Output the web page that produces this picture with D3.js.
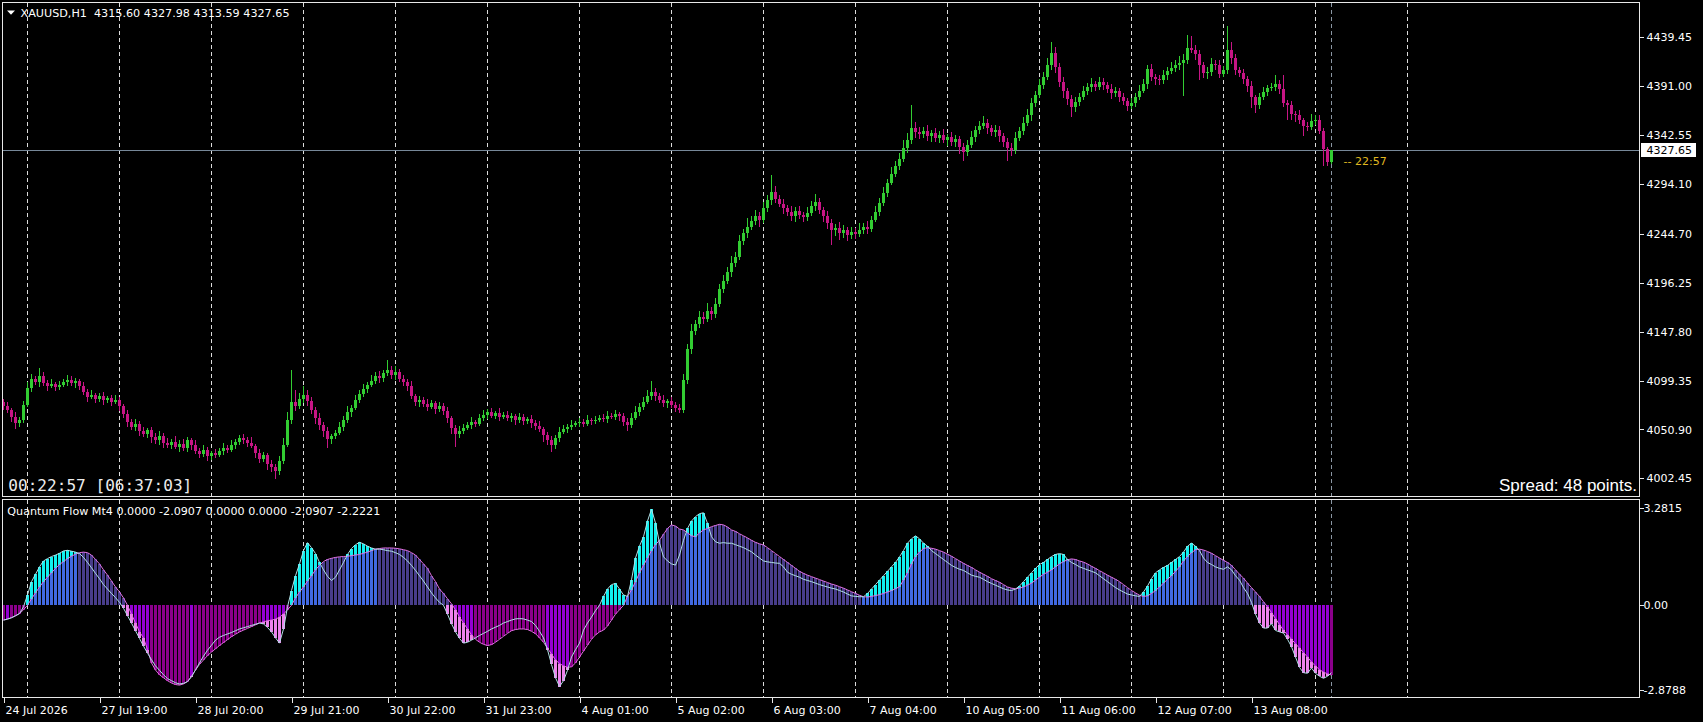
<!DOCTYPE html>
<html>
<head>
<meta charset="utf-8">
<title>XAUUSD,H1</title>
<script src="https://cdn.jsdelivr.net/npm/d3@7.9.0/dist/d3.min.js"></script>
<style>
  html, body { margin: 0; padding: 0; background: #000; overflow: hidden; }
  svg { display: block; }
  text { font-family: "DejaVu Sans", sans-serif; font-size: 11px; fill: #fff; }
</style>
</head>
<body>
<svg id="chart" width="1703" height="722"></svg>
<script>
// ---- data (one value per H1 bar, 333 bars) ----
const firstOpen = 4078;
const closes = [
  4074, 4070, 4063, 4057, 4060, 4075, 4092, 4101, 4098, 4104,
  4097, 4094, 4096, 4093, 4095, 4098, 4100, 4097, 4099, 4094,
  4088, 4083, 4085, 4081, 4084, 4080, 4082, 4078, 4080, 4074,
  4066, 4058, 4053, 4056, 4049, 4046, 4050, 4043, 4040, 4044,
  4038, 4036, 4039, 4034, 4037, 4033, 4040, 4036, 4030, 4027,
  4031, 4025, 4028, 4026, 4030, 4033, 4031, 4036, 4039, 4042,
  4040, 4038, 4035, 4028, 4022, 4026, 4017, 4014, 4010, 4020,
  4036, 4060, 4078, 4074, 4081, 4085, 4079, 4070, 4062, 4055,
  4049, 4041, 4044, 4047, 4053, 4060, 4068, 4072, 4080, 4086,
  4091, 4095, 4099, 4104, 4102, 4107, 4110, 4105, 4108, 4101,
  4098, 4094, 4084, 4078, 4080, 4076, 4073, 4077, 4071, 4074,
  4069, 4062, 4052, 4046, 4049, 4052, 4055, 4058, 4056, 4062,
  4065, 4068, 4064, 4067, 4063, 4065, 4062, 4064, 4060, 4063,
  4059, 4061, 4057, 4054, 4051, 4045, 4040, 4036, 4042, 4048,
  4051, 4053, 4055, 4057, 4058, 4056, 4060, 4059, 4060, 4062,
  4061, 4064, 4063, 4066, 4064, 4058, 4055, 4062, 4068, 4073,
  4078, 4084, 4088, 4084, 4080, 4077, 4079, 4075, 4072, 4070,
  4100, 4131, 4148, 4155, 4162, 4160, 4168, 4165, 4175, 4190,
  4198, 4207, 4216, 4222, 4238, 4246, 4252, 4257, 4262, 4258,
  4270, 4278, 4286, 4279, 4274, 4270, 4266, 4262, 4267, 4263,
  4261, 4265, 4272, 4276, 4268, 4262, 4255, 4249, 4251, 4246,
  4249, 4244, 4247, 4245, 4249, 4252, 4250, 4258, 4266, 4275,
  4285, 4295, 4304, 4312, 4319, 4330, 4338, 4350, 4346, 4344,
  4347, 4342, 4345, 4340, 4343, 4338, 4341, 4336, 4339, 4331,
  4326, 4333, 4341, 4348, 4352, 4355, 4350, 4346, 4348, 4342,
  4336, 4330, 4328, 4340, 4347, 4355, 4362, 4374, 4382, 4392,
  4400, 4412, 4424, 4410, 4395, 4386, 4378, 4370, 4375, 4380,
  4386, 4390, 4393, 4390, 4395, 4392, 4388, 4384, 4386, 4380,
  4376, 4371, 4374, 4380, 4386, 4393, 4408, 4400, 4398, 4397,
  4402, 4406, 4409, 4412, 4414, 4417, 4428.5, 4427, 4423, 4412,
  4404, 4405, 4413, 4412, 4403, 4407, 4427, 4419, 4407, 4404,
  4398, 4391, 4380, 4372, 4380, 4385, 4389, 4390, 4393, 4388,
  4374, 4372, 4363, 4362, 4357.5, 4352, 4351, 4357, 4357.5, 4347,
  4328.5, 4315.6, 4327.65
];
const wickUp = [
  3, 4, 2, 5, 3, 4, 6, 5, 3, 8,   4, 3, 5, 2, 4, 3, 5, 4, 3, 2,
  4, 3, 5, 2, 3, 4, 2, 3, 5, 3,   2, 4, 3, 5, 3, 4, 2, 3, 4, 5,
  3, 4, 2, 5, 3, 4, 3, 2, 4, 3,   5, 3, 2, 4, 3, 5, 3, 4, 2, 3,
  4, 3, 5, 2, 4, 3, 2, 4, 3, 5,   6, 8, 32, 12, 6, 9, 5, 4, 3, 5,
  3, 4, 2, 3, 5, 4, 6, 3, 5, 4,   5, 3, 6, 4, 5, 3, 10, 4, 6, 3,
  4, 3, 5, 2, 4, 3, 5, 3, 2, 4,   3, 4, 2, 3, 5, 4, 3, 5, 2, 4,
  5, 3, 4, 2, 5, 3, 4, 3, 2, 4,   3, 2, 4, 3, 5, 2, 3, 4, 3, 5,
  4, 3, 5, 2, 4, 3, 5, 2, 4, 3,   4, 5, 3, 4, 2, 3, 4, 5, 6, 4,
  5, 6, 11, 4, 3, 5, 2, 4, 3, 4,  6, 5, 7, 4, 6, 5, 8, 4, 6, 5,
  6, 5, 7, 5, 6, 4, 8, 5, 6, 4,   6, 5, 17, 6, 4, 5, 3, 6, 4, 5,
  3, 6, 5, 8, 4, 3, 5, 4, 3, 5,   4, 3, 5, 4, 6, 3, 5, 4, 6, 5,
  6, 4, 7, 5, 6, 8, 7, 22, 6, 5,  4, 6, 3, 5, 4, 6, 3, 5, 4, 3,
  4, 5, 6, 4, 5, 6, 4, 3, 5, 4,   3, 4, 5, 6, 4, 5, 6, 5, 4, 6,
  5, 7, 11, 6, 4, 5, 3, 4, 5, 4,  5, 4, 6, 3, 5, 4, 3, 5, 4, 3,
  4, 3, 5, 4, 6, 5, 4, 5, 3, 4,   5, 4, 6, 5, 7, 6, 13, 12, 5, 4,
  3, 5, 6, 4, 5, 4, 24, 8, 4, 3,  4, 3, 5, 2, 4, 5, 3, 4, 9, 4,
  14, 3, 4, 3, 5, 2, 4, 6, 5, 5,  3, 2, 0.33
];
const wickDn = [
  4, 3, 5, 6, 4, 3, 2, 4, 3, 5,   3, 5, 2, 4, 3, 2, 4, 3, 5, 4,
  3, 5, 2, 4, 3, 5, 3, 4, 2, 5,   4, 5, 3, 4, 5, 3, 4, 5, 3, 4,
  5, 3, 4, 2, 5, 3, 4, 5, 3, 4,   3, 5, 4, 3, 2, 4, 3, 2, 4, 3,
  3, 4, 2, 5, 4, 3, 6, 5, 8, 4,   3, 2, 4, 5, 3, 4, 5, 4, 6, 5,
  6, 8, 4, 3, 2, 4, 3, 5, 2, 3,   3, 4, 2, 3, 5, 4, 3, 4, 5, 3,
  4, 5, 3, 4, 5, 3, 4, 2, 5, 3,   4, 5, 6, 12, 4, 3, 2, 4, 3, 2,
  3, 4, 2, 3, 4, 2, 3, 4, 5, 3,   4, 3, 5, 4, 3, 6, 4, 7, 4, 3,
  2, 4, 3, 2, 4, 3, 2, 4, 3, 2,   3, 4, 2, 3, 5, 4, 6, 3, 2, 4,
  3, 2, 4, 5, 3, 4, 5, 3, 4, 3,   3, 4, 5, 3, 4, 5, 3, 6, 4, 3,
  4, 3, 5, 4, 3, 4, 5, 3, 4, 6,   3, 4, 5, 4, 3, 6, 4, 5, 6, 4,
  5, 4, 3, 5, 4, 6, 5, 15, 6, 7,  5, 6, 4, 5, 3, 4, 5, 3, 2, 4,
  3, 4, 2, 3, 4, 3, 5, 4, 6, 5,   4, 5, 6, 4, 5, 3, 6, 4, 5, 7,
  9, 4, 3, 5, 4, 3, 6, 4, 5, 6,   5, 13, 6, 4, 3, 4, 3, 5, 4, 3,
  4, 3, 5, 6, 5, 7, 6, 10, 5, 4,  3, 4, 5, 4, 3, 5, 4, 6, 4, 5,
  4, 5, 3, 4, 3, 2, 5, 4, 6, 5,   4, 5, 3, 4, 5, 33, 4, 3, 6, 15,
  5, 6, 4, 5, 4, 3, 4, 6, 5, 4,   5, 6, 11, 8, 4, 3, 4, 3, 4, 5,
  4, 14, 5, 6, 4, 10, 4, 3, 4, 3, 17, 4, 2.01
];
const fastLine = [
  -0.50, -0.47, -0.42, -0.35, -0.28, -0.05, 0.35, 0.80, 1.05, 1.30,
  1.50, 1.58, 1.65, 1.70, 1.76, 1.84, 1.86, 1.83, 1.80, 1.75,
  1.62, 1.45, 1.27, 1.08, 0.90, 0.70, 0.55, 0.40, 0.26, 0.10,
  -0.10, -0.35, -0.60, -0.86, -1.12, -1.38, -1.62, -1.84, -2.05, -2.20,
  -2.35, -2.48, -2.55, -2.62, -2.66, -2.64, -2.58, -2.42, -2.18, -1.95,
  -1.72, -1.52, -1.35, -1.18, -1.08, -1.02, -0.97, -0.92, -0.86, -0.80,
  -0.76, -0.72, -0.68, -0.64, -0.60, -0.63, -0.75, -0.90, -1.10, -1.28,
  -0.80, -0.05, 0.50, 1.00, 1.40, 1.85, 2.12, 1.95, 1.75, 1.45,
  1.20, 0.98, 0.84, 0.95, 1.20, 1.45, 1.72, 1.92, 2.05, 2.13,
  2.08, 2.00, 1.94, 1.90, 1.90, 1.88, 1.85, 1.83, 1.78, 1.72,
  1.62, 1.50, 1.35, 1.18, 1.00, 0.82, 0.62, 0.42, 0.25, 0.10,
  0.00, -0.30, -0.62, -0.90, -1.12, -1.28, -1.25, -1.18, -1.10, -1.02,
  -0.95, -0.88, -0.80, -0.74, -0.68, -0.60, -0.55, -0.50, -0.46, -0.45,
  -0.46, -0.50, -0.55, -0.68, -0.88, -1.10, -1.50, -2.00, -2.45, -2.75,
  -2.55, -2.20, -1.75, -1.50, -1.28, -0.84, -0.60, -0.40, -0.18, 0.00,
  0.30, 0.55, 0.70, 0.74, 0.55, 0.35, 0.30, 0.86, 1.60, 2.00,
  2.32, 2.85, 3.25, 2.78, 2.10, 1.64, 1.50, 1.40, 1.36, 1.70,
  2.20, 2.60, 2.85, 3.00, 3.10, 3.13, 2.77, 2.32, 2.15, 2.10,
  2.12, 2.10, 2.10, 2.05, 2.00, 1.95, 1.88, 1.81, 1.70, 1.60,
  1.50, 1.47, 1.45, 1.43, 1.42, 1.30, 1.12, 1.05, 1.00, 0.95,
  0.88, 0.84, 0.80, 0.75, 0.70, 0.66, 0.62, 0.58, 0.55, 0.50,
  0.45, 0.38, 0.32, 0.30, 0.29, 0.29, 0.40, 0.55, 0.70, 0.85,
  1.00, 1.15, 1.30, 1.45, 1.64, 1.85, 2.10, 2.25, 2.35, 2.25,
  2.10, 2.00, 1.85, 1.75, 1.65, 1.55, 1.45, 1.35, 1.28, 1.22,
  1.18, 1.10, 1.02, 0.98, 0.95, 0.88, 0.80, 0.74, 0.68, 0.62,
  0.56, 0.52, 0.50, 0.55, 0.65, 0.80, 0.95, 1.10, 1.25, 1.38,
  1.45, 1.55, 1.65, 1.72, 1.75, 1.72, 1.55, 1.45, 1.38, 1.30,
  1.25, 1.20, 1.15, 1.10, 1.00, 0.90, 0.80, 0.70, 0.60, 0.52,
  0.45, 0.38, 0.35, 0.32, 0.30, 0.45, 0.65, 0.90, 1.10, 1.20,
  1.28, 1.35, 1.45, 1.55, 1.65, 1.80, 2.00, 2.10, 2.00, 1.85,
  1.60, 1.45, 1.38, 1.30, 1.25, 1.22, 1.30, 1.20, 1.00, 0.85,
  0.60, 0.40, 0.10, -0.30, -0.60, -0.77, -0.77, -0.62, -0.85, -0.90,
  -0.94, -1.15, -1.40, -1.75, -2.10, -2.28, -2.30, -2.12, -2.30, -2.40,
  -2.47, -2.40, -2.28
];
const slowLine = [
  -0.50, -0.46, -0.42, -0.36, -0.28, -0.15, 0.00, 0.22, 0.42, 0.62,
  0.80, 0.95, 1.10, 1.25, 1.38, 1.48, 1.58, 1.66, 1.73, 1.78,
  1.80, 1.78, 1.70, 1.55, 1.40, 1.20, 1.02, 0.82, 0.62, 0.45,
  0.25, 0.00, -0.30, -0.60, -0.90, -1.10, -1.50, -1.95, -2.19, -2.35,
  -2.45, -2.55, -2.63, -2.68, -2.70, -2.66, -2.58, -2.40, -2.19, -2.00,
  -1.85, -1.70, -1.58, -1.47, -1.36, -1.26, -1.16, -1.06, -0.98, -0.90,
  -0.84, -0.78, -0.72, -0.66, -0.60, -0.56, -0.52, -0.50, -0.47, -0.40,
  -0.30, -0.15, 0.00, 0.25, 0.45, 0.62, 0.82, 1.00, 1.20, 1.35,
  1.48, 1.55, 1.59, 1.62, 1.64, 1.65, 1.66, 1.68, 1.70, 1.72,
  1.76, 1.80, 1.85, 1.90, 1.92, 1.94, 1.94, 1.94, 1.93, 1.91,
  1.88, 1.85, 1.78, 1.70, 1.55, 1.40, 1.25, 1.00, 0.80, 0.55,
  0.40, 0.22, 0.05, -0.15, -0.40, -0.60, -0.80, -1.00, -1.15, -1.25,
  -1.32, -1.36, -1.33, -1.25, -1.15, -1.05, -0.95, -0.86, -0.82, -0.80,
  -0.80, -0.82, -0.88, -0.96, -1.10, -1.25, -1.45, -1.65, -1.85, -1.97,
  -2.05, -2.10, -2.08, -1.95, -1.75, -1.55, -1.35, -1.15, -1.00, -0.90,
  -0.84, -0.70, -0.50, -0.30, -0.15, 0.00, 0.30, 0.52, 0.80, 1.10,
  1.35, 1.60, 1.85, 2.05, 2.20, 2.40, 2.60, 2.72, 2.68, 2.58,
  2.55, 2.45, 2.35, 2.32, 2.45, 2.55, 2.60, 2.66, 2.70, 2.74,
  2.72, 2.65, 2.55, 2.50, 2.42, 2.35, 2.28, 2.20, 2.13, 2.08,
  2.04, 1.95, 1.85, 1.75, 1.65, 1.55, 1.45, 1.35, 1.25, 1.15,
  1.08, 1.02, 0.97, 0.92, 0.87, 0.82, 0.77, 0.72, 0.68, 0.63,
  0.58, 0.52, 0.46, 0.40, 0.34, 0.29, 0.28, 0.30, 0.33, 0.36,
  0.40, 0.45, 0.50, 0.56, 0.63, 0.85, 1.10, 1.40, 1.65, 1.80,
  1.92, 1.95, 1.93, 1.90, 1.85, 1.80, 1.73, 1.66, 1.58, 1.50,
  1.42, 1.35, 1.28, 1.20, 1.12, 1.05, 0.98, 0.90, 0.84, 0.78,
  0.70, 0.62, 0.58, 0.56, 0.58, 0.62, 0.68, 0.75, 0.85, 0.95,
  1.05, 1.12, 1.20, 1.30, 1.40, 1.48, 1.54, 1.57, 1.55, 1.50,
  1.46, 1.40, 1.32, 1.25, 1.17, 1.10, 1.02, 0.95, 0.88, 0.80,
  0.70, 0.60, 0.50, 0.42, 0.34, 0.30, 0.32, 0.40, 0.50, 0.62,
  0.75, 0.88, 1.00, 1.15, 1.30, 1.50, 1.65, 1.78, 1.88, 1.90,
  1.87, 1.82, 1.76, 1.68, 1.60, 1.52, 1.45, 1.35, 1.20, 1.05,
  0.92, 0.75, 0.60, 0.45, 0.30, 0.12, -0.05, -0.25, -0.45, -0.65,
  -0.85, -1.00, -1.15, -1.30, -1.45, -1.60, -1.75, -1.92, -2.05, -2.18,
  -2.26, -2.32, -2.36
];

const priceTicks = [4439.45, 4391.00, 4342.55, 4294.10, 4244.70, 4196.25, 4147.80, 4099.35, 4050.90, 4002.45];
const flowTicks = [3.2815, 0, -2.8788];
const flowTickLabels = ["3.2815", "0.00", "-2.8788"];
const timeLabels = ["24 Jul 2026", "27 Jul 19:00", "28 Jul 20:00", "29 Jul 21:00", "30 Jul 22:00",
  "31 Jul 23:00", "4 Aug 01:00", "5 Aug 02:00", "6 Aug 03:00", "7 Aug 04:00",
  "10 Aug 05:00", "11 Aug 06:00", "12 Aug 07:00", "13 Aug 08:00"];
const timeLabelBars = [0, 24, 48, 72, 96, 120, 144, 168, 192, 216, 240, 264, 288, 312];
const gridBars = [6, 29, 52, 75, 98, 121, 144, 167, 190, 213, 236, 259, 282, 305, 328, 351];
const bidPrice = 4327.65;
const headerText = "XAUUSD,H1  4315.60 4327.98 4313.59 4327.65";
const flowTitle = "Quantum Flow Mt4 0.0000 -2.0907 0.0000 0.0000 -2.0907 -2.2221";

// ---- layout ----
const paneLeft = 2.5, paneRight = 1639.5;
const mainTop = 2.5, mainBottom = 496.5;
const flowTop = 499.5, flowBottom = 697.5;

const colors = {
  bull: "#32cd32", bear: "#c71585",
  cyan: "#10f0f0", blue: "#4169e1", slate: "#483d8b",
  violet: "#9400d3", pink: "#ee82ee", magenta: "#8b008b",
  fast: "#b0e0e6", slow: "#e070e0",
  grid: "#dcdcdc", frame: "#e8e8e8", bid: "#778899", now: "#8a96a3", clock: "#e0b820"
};

const svg = d3.select("#chart");
svg.append("rect").attr("width", 1703).attr("height", 722).attr("fill", "#000");

const x = d3.scaleLinear().domain([0, closes.length - 1]).range([3.5, 3.5 + 4 * (closes.length - 1)]);
const yPrice = d3.scaleLinear().domain([4002.45, 4439.45]).range([478.4, 37.3]);
const yFlow = d3.scaleLinear().domain([-2.8788, 3.2815]).range([690.4, 508.3]);

const defs = svg.append("defs");
defs.append("clipPath").attr("id", "clip-main").append("rect")
  .attr("x", 3).attr("y", 3).attr("width", paneRight - 3.5).attr("height", mainBottom - 3.5);
defs.append("clipPath").attr("id", "clip-flow").append("rect")
  .attr("x", 3).attr("y", flowTop + 0.5).attr("width", paneRight - 3.5).attr("height", flowBottom - flowTop - 1);

function drawGrid(g, top, bottom) {
  g.selectAll("line.grid")
    .data(gridBars)
    .join("line")
    .attr("class", "grid")
    .attr("x1", (d) => x(d)).attr("x2", (d) => x(d))
    .attr("y1", top).attr("y2", bottom)
    .attr("stroke", colors.grid)
    .attr("stroke-dasharray", "4,3");
  g.append("line")
    .attr("x1", x(closes.length - 1)).attr("x2", x(closes.length - 1))
    .attr("y1", top).attr("y2", bottom)
    .attr("stroke", colors.now)
    .attr("stroke-dasharray", "4,3");
}

// ---- main pane ----
const candles = closes.map((c, i) => {
  const o = i === 0 ? firstOpen : closes[i - 1];
  return { i, o, c, h: Math.max(o, c) + wickUp[i], l: Math.min(o, c) - wickDn[i] };
});

const main = svg.append("g").attr("clip-path", "url(#clip-main)").attr("shape-rendering", "crispEdges");
drawGrid(main, mainTop, mainBottom);

main.append("line")
  .attr("x1", paneLeft).attr("x2", paneRight)
  .attr("y1", yPrice(bidPrice)).attr("y2", yPrice(bidPrice))
  .attr("stroke", colors.bid);

main.selectAll("line.wick")
  .data(candles)
  .join("line")
  .attr("class", "wick")
  .attr("x1", (d) => x(d.i)).attr("x2", (d) => x(d.i))
  .attr("y1", (d) => yPrice(d.h)).attr("y2", (d) => yPrice(d.l))
  .attr("stroke", (d) => (d.c >= d.o ? colors.bull : colors.bear));

main.selectAll("rect.body")
  .data(candles)
  .join("rect")
  .attr("class", "body")
  .attr("x", (d) => x(d.i) - 1.5)
  .attr("width", 3)
  .attr("y", (d) => yPrice(Math.max(d.o, d.c)))
  .attr("height", (d) => Math.max(1, yPrice(Math.min(d.o, d.c)) - yPrice(Math.max(d.o, d.c))))
  .attr("fill", (d) => (d.c >= d.o ? colors.bull : colors.bear));

// ---- indicator pane ----
function flowSegments(f, s) {
  if (f >= s) {
    if (s >= 0) return [[0, s, colors.blue], [s, f, colors.cyan]];
    if (f >= 0) return [[s, 0, colors.magenta], [0, f, colors.cyan]];
    return [[s, 0, colors.magenta]];
  }
  if (s <= 0) return [[0, s, colors.violet], [s, f, colors.pink]];
  if (f <= 0) return [[0, s, colors.slate], [0, f, colors.pink]];
  return [[0, s, colors.slate]];
}

const segs = fastLine.flatMap((f, i) =>
  flowSegments(f, slowLine[i]).map(([a, b, color]) => ({ i, a, b, color })));

const flow = svg.append("g").attr("clip-path", "url(#clip-flow)");
drawGrid(flow.append("g").attr("shape-rendering", "crispEdges"), flowTop, flowBottom);

flow.append("g").attr("shape-rendering", "crispEdges")
  .selectAll("rect")
  .data(segs)
  .join("rect")
  .attr("x", (d) => x(d.i) - 1.5)
  .attr("width", 3)
  .attr("y", (d) => yFlow(Math.max(d.a, d.b)))
  .attr("height", (d) => Math.abs(yFlow(d.a) - yFlow(d.b)))
  .attr("fill", (d) => d.color);

const flowPath = d3.line().x((d, i) => x(i)).y((d) => yFlow(d));
flow.append("path").attr("d", flowPath(slowLine))
  .attr("fill", "none").attr("stroke", colors.slow).attr("stroke-width", 1);
flow.append("path").attr("d", flowPath(fastLine))
  .attr("fill", "none").attr("stroke", colors.fast).attr("stroke-width", 1);

// ---- frames ----
svg.append("rect").attr("x", paneLeft).attr("y", mainTop)
  .attr("width", paneRight - paneLeft).attr("height", mainBottom - mainTop)
  .attr("fill", "none").attr("stroke", colors.frame).attr("shape-rendering", "crispEdges");
svg.append("rect").attr("x", paneLeft).attr("y", flowTop)
  .attr("width", paneRight - paneLeft).attr("height", flowBottom - flowTop)
  .attr("fill", "none").attr("stroke", colors.frame).attr("shape-rendering", "crispEdges");

// ---- axes ----
function styleAxis(g) {
  g.attr("font-family", null).attr("font-size", null);
  g.select(".domain").remove();
  g.selectAll(".tick line").attr("stroke", colors.frame).attr("shape-rendering", "crispEdges");
  g.selectAll(".tick text").attr("fill", "#f0f0f0");
}

svg.append("g")
  .attr("transform", `translate(${paneRight},0)`)
  .call(d3.axisRight(yPrice).tickValues(priceTicks).tickSize(4).tickPadding(3).tickFormat(d3.format(".2f")))
  .call(styleAxis);

svg.append("g")
  .attr("transform", `translate(${paneRight},0)`)
  .call(d3.axisRight(yFlow).tickValues(flowTicks).tickSize(4).tickPadding(0)
    .tickFormat((d, i) => flowTickLabels[i]))
  .call(styleAxis);

svg.append("g")
  .attr("transform", `translate(0,${flowBottom})`)
  .call(d3.axisBottom(x).tickValues(timeLabelBars).tickSize(5).tickPadding(4)
    .tickFormat((d, i) => timeLabels[i]))
  .call(styleAxis)
  .call((g) => g.selectAll(".tick text").attr("text-anchor", "start").attr("x", 1.5));

// bid price tag
const bidY = yPrice(bidPrice);
svg.append("rect").attr("x", 1641).attr("y", bidY - 7).attr("width", 55).attr("height", 14)
  .attr("fill", "#fff").attr("shape-rendering", "crispEdges");
svg.append("text").attr("x", 1646.5).attr("y", bidY).attr("dy", "0.32em")
  .style("fill", "#000").text(d3.format(".2f")(bidPrice));

// ---- texts ----
svg.append("path").attr("d", "M7,10.5 L15,10.5 L11,14.8 Z").attr("fill", "#fff");
svg.append("text").attr("x", 20.5).attr("y", 16.7)
  .attr("textLength", 269).attr("lengthAdjust", "spacingAndGlyphs")
  .attr("xml:space", "preserve").text(headerText);

svg.append("text").attr("x", 7.3).attr("y", 515)
  .attr("textLength", 373).attr("lengthAdjust", "spacingAndGlyphs").text(flowTitle);

svg.append("text").attr("x", 8.3).attr("y", 490.5)
  .attr("textLength", 184).attr("lengthAdjust", "spacingAndGlyphs")
  .style("font-family", "'DejaVu Sans Mono', monospace").style("font-size", "16.5px")
  .style("fill", "#ececec").text("00:22:57 [06:37:03]");

svg.append("text").attr("x", 1637).attr("y", 490.7).attr("text-anchor", "end")
  .style("font-family", "'Liberation Sans', Arial, sans-serif").style("font-size", "17px")
  .text("Spread: 48 points.");

svg.append("text").attr("x", x(closes.length - 1) + 12).attr("y", bidY + 15)
  .style("fill", colors.clock).text("-- 22:57");
</script>
</body>
</html>
